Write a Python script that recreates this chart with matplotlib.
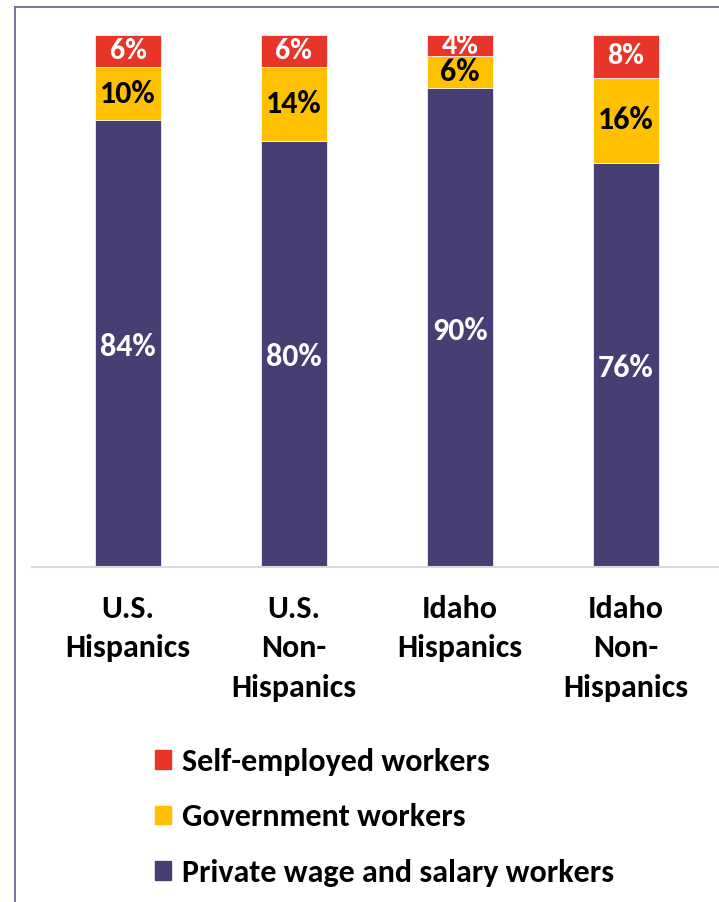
import numpy as np
import matplotlib.pyplot as plt
from matplotlib.patches import Patch
from matplotlib.lines import Line2D

plt.rcParams['font.family'] = ['Carlito', 'DejaVu Sans']
plt.rcParams['font.weight'] = 'bold'

groups = ["U.S.\nHispanics", "U.S.\nNon-\nHispanics", "Idaho\nHispanics", "Idaho\nNon-\nHispanics"]
private = [84, 80, 90, 76]
government = [10, 14, 6, 16]
self_emp = [6, 6, 4, 8]

c_private = "#453F74"
c_gov = "#FFC000"
c_self = "#E8352A"

fig = plt.figure(figsize=(7.19, 9.02), dpi=100)
# axes: left 32px, right 719px, bottom y=567, top y=35 (100%)
W, H = 719, 902
ax = fig.add_axes([32 / W, (H - 567) / H, (719 - 32) / W, (567 - 35) / H])

x = np.arange(len(groups))
bw = 66 / 166
ax.bar(x, private, bw, color=c_private, edgecolor="white", linewidth=0.5)
ax.bar(x, government, bw, bottom=private, color=c_gov, edgecolor="white", linewidth=0.5)
bottom2 = np.array(private) + np.array(government)
ax.bar(x, self_emp, bw, bottom=bottom2, color=c_self, edgecolor="white", linewidth=0.5)

for i in range(len(groups)):
    ax.text(x[i], private[i] / 2 - 0.6, f"{private[i]}%", ha="center", va="center",
            color="white", fontsize=23, fontweight="bold")
    ax.text(x[i], private[i] + government[i] / 2, f"{government[i]}%", ha="center", va="center",
            color="black", fontsize=23, fontweight="bold")
    ax.text(x[i], bottom2[i] + self_emp[i] / 2, f"{self_emp[i]}%", ha="center", va="center",
            color="white", fontsize=21.5, fontweight="bold")

ax.set_xlim(-0.578, 3.561)
ax.set_ylim(0, 100)
ax.set_yticks([])
ax.set_xticks(x)
ax.set_xticklabels(groups, fontsize=23, fontweight="bold", linespacing=1.5)
ax.tick_params(axis="x", length=0, pad=20)
for s in ["top", "right", "left"]:
    ax.spines[s].set_visible(False)
ax.spines["bottom"].set_color("#D9D9D9")
ax.spines["bottom"].set_linewidth(1.5)

# outer border (left and top)
fig.add_artist(Line2D([15 / W, 15 / W], [0, 1 - 7 / H], color="#6A6A9A", lw=1.3))
fig.add_artist(Line2D([15 / W, 1], [1 - 7 / H, 1 - 7 / H], color="#6A6A9A", lw=1.3))

handles = [Patch(color=c_self, label="Self-employed workers"),
           Patch(color=c_gov, label="Government workers"),
           Patch(color=c_private, label="Private wage and salary workers")]
fig.legend(handles=handles, loc="upper left", bbox_to_anchor=(155 / W, 1 - 748 / H),
           frameon=False, borderpad=0, borderaxespad=0, handlelength=0.5, handleheight=0.52,
           handletextpad=0.33, labelspacing=0.86, prop={"weight": "bold", "size": 23})

fig.savefig("out.png", dpi=100)
